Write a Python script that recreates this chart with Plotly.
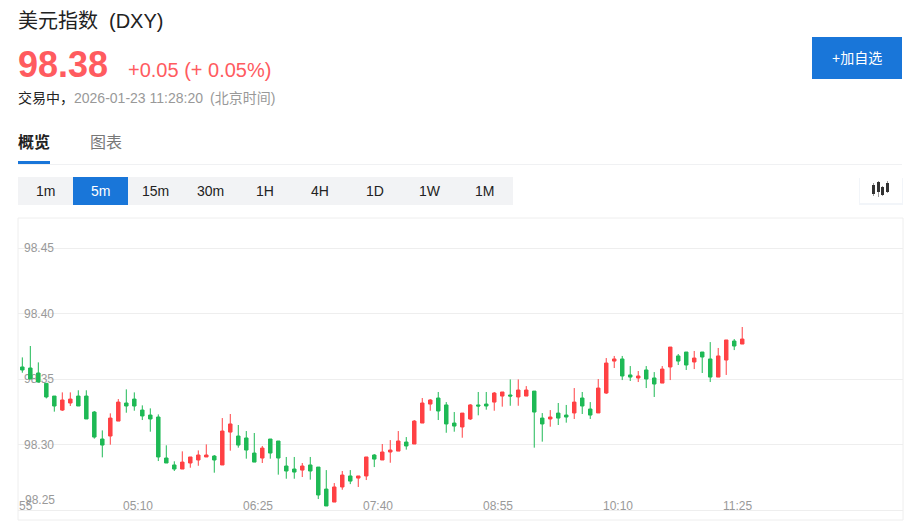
import plotly.graph_objects as go

# page body keeps its 8px margin, so the figure starts at (8, 8) of the window
W, H = 904, 516
OFFSET = 8

times = [
    "03:55", "04:00", "04:05", "04:10", "04:15", "04:20", "04:25", "04:30", "04:35", "04:40",
    "04:45", "04:50", "04:55", "05:00", "05:05", "05:10", "05:15", "05:20", "05:25", "05:30",
    "05:35", "05:40", "05:45", "05:50", "05:55", "06:00", "06:05", "06:10", "06:15", "06:20",
    "06:25", "06:30", "06:35", "06:40", "06:45", "06:50", "06:55", "07:00", "07:05", "07:10",
    "07:15", "07:20", "07:25", "07:30", "07:35", "07:40", "07:45", "07:50", "07:55", "08:00",
    "08:05", "08:10", "08:15", "08:20", "08:25", "08:30", "08:35", "08:40", "08:45", "08:50",
    "08:55", "09:00", "09:05", "09:10", "09:15", "09:20", "09:25", "09:30", "09:35", "09:40",
    "09:45", "09:50", "09:55", "10:00", "10:05", "10:10", "10:15", "10:20", "10:25", "10:30",
    "10:35", "10:40", "10:45", "10:50", "10:55", "11:00", "11:05", "11:10", "11:15", "11:20",
    "11:25",
]
opens = [
    98.3592, 98.3584, 98.3546, 98.3467, 98.3370, 98.3263, 98.3317, 98.3370, 98.3370, 98.3248,
    98.3042, 98.3065, 98.3179, 98.3317, 98.3347, 98.3263, 98.3225, 98.3210, 98.2897, 98.2844,
    98.2813, 98.2859, 98.2882, 98.2905, 98.2912, 98.2844, 98.3095, 98.3065, 98.3050, 98.2935,
    98.2897, 98.3042, 98.3027, 98.2836, 98.2813, 98.2805, 98.2844, 98.2828, 98.2660, 98.2561,
    98.2676, 98.2760, 98.2744, 98.2760, 98.2920, 98.2882, 98.2943, 98.2950, 98.3019, 98.3004,
    98.3164, 98.3309, 98.3355, 98.3302, 98.3164, 98.3134, 98.3195, 98.3302, 98.3309, 98.3324,
    98.3370, 98.3378, 98.3363, 98.3370, 98.3408, 98.3202, 98.3195, 98.3240, 98.3225, 98.3241,
    98.3355, 98.3271, 98.3241, 98.3393, 98.3637, 98.3653, 98.3531, 98.3508, 98.3569, 98.3508,
    98.3469, 98.3592, 98.3676, 98.3706, 98.3630, 98.3706, 98.3653, 98.3515, 98.3645, 98.3790,
    98.3767,
]
highs = [
    98.3665, 98.3752, 98.3627, 98.3467, 98.3370, 98.3398, 98.3398, 98.3414, 98.3414, 98.3256,
    98.3108, 98.3238, 98.3347, 98.3421, 98.3398, 98.3299, 98.3276, 98.3230, 98.2994, 98.2872,
    98.2948, 98.2905, 98.2955, 98.3001, 98.2920, 98.3202, 98.3233, 98.3149, 98.3103, 98.3088,
    98.2989, 98.3042, 98.3027, 98.2905, 98.2905, 98.2859, 98.2905, 98.2828, 98.2805, 98.2706,
    98.2798, 98.2805, 98.2760, 98.2905, 98.2927, 98.3004, 98.3034, 98.3103, 98.3057, 98.3187,
    98.3355, 98.3347, 98.3401, 98.3324, 98.3248, 98.3240, 98.3309, 98.3401, 98.3401, 98.3401,
    98.3401, 98.3497, 98.3497, 98.3446, 98.3408, 98.3240, 98.3263, 98.3317, 98.3302, 98.3431,
    98.3401, 98.3324, 98.3500, 98.3660, 98.3676, 98.3676, 98.3599, 98.3561, 98.3599, 98.3553,
    98.3599, 98.3744, 98.3691, 98.3706, 98.3714, 98.3706, 98.3782, 98.3737, 98.3798, 98.3805,
    98.3897,
]
lows = [
    98.3548, 98.3500, 98.3475, 98.3352, 98.3251, 98.3256, 98.3294, 98.3294, 98.3195, 98.3045,
    98.2902, 98.2999, 98.3179, 98.3243, 98.3258, 98.3187, 98.3098, 98.2874, 98.2859, 98.2798,
    98.2813, 98.2823, 98.2838, 98.2905, 98.2785, 98.2844, 98.2953, 98.2976, 98.2892, 98.2866,
    98.2859, 98.2892, 98.2770, 98.2739, 98.2739, 98.2752, 98.2732, 98.2584, 98.2531, 98.2561,
    98.2655, 98.2698, 98.2676, 98.2729, 98.2828, 98.2882, 98.2861, 98.2950, 98.2961, 98.3004,
    98.3164, 98.3258, 98.3187, 98.3090, 98.3098, 98.3052, 98.3187, 98.3223, 98.3266, 98.3258,
    98.3289, 98.3296, 98.3296, 98.3370, 98.2976, 98.3022, 98.3136, 98.3149, 98.3167, 98.3195,
    98.3233, 98.3195, 98.3241, 98.3386, 98.3584, 98.3492, 98.3485, 98.3477, 98.3431, 98.3363,
    98.3469, 98.3492, 98.3607, 98.3569, 98.3576, 98.3546, 98.3477, 98.3515, 98.3531, 98.3721,
    98.3767,
]
closes = [
    98.3569, 98.3500, 98.3477, 98.3363, 98.3294, 98.3340, 98.3347, 98.3294, 98.3195, 98.3057,
    98.2996, 98.3202, 98.3324, 98.3294, 98.3294, 98.3218, 98.3195, 98.2905, 98.2859, 98.2813,
    98.2866, 98.2905, 98.2920, 98.2920, 98.2882, 98.3103, 98.3157, 98.2996, 98.2958, 98.2866,
    98.2973, 98.2935, 98.2897, 98.2798, 98.2790, 98.2836, 98.2798, 98.2615, 98.2531, 98.2676,
    98.2767, 98.2721, 98.2760, 98.2905, 98.2889, 98.2943, 98.2958, 98.3027, 98.2989, 98.3179,
    98.3317, 98.3340, 98.3256, 98.3157, 98.3141, 98.3240, 98.3302, 98.3294, 98.3294, 98.3393,
    98.3401, 98.3370, 98.3416, 98.3416, 98.3248, 98.3157, 98.3210, 98.3202, 98.3210, 98.3324,
    98.3294, 98.3225, 98.3431, 98.3622, 98.3653, 98.3523, 98.3515, 98.3523, 98.3500, 98.3462,
    98.3576, 98.3744, 98.3637, 98.3607, 98.3660, 98.3668, 98.3515, 98.3676, 98.3798, 98.3752,
    98.3805,
]

y_ticks = [98.30, 98.35, 98.40, 98.45]
x_ticks = ["05:10", "06:25", "07:40", "08:55", "10:10", "11:25"]
tabs = ["1m", "5m", "15m", "30m", "1H", "4H", "1D", "1W", "1M"]

RED = "#ff4144"
GREEN = "#1eb955"
BLUE = "#1976d9"
GRAY = "#999999"
FONT = "Liberation Sans, Noto Sans CJK SC, sans-serif"


def px(x):
    return (x - OFFSET) / W


def py(y):
    return 1 - (y - OFFSET) / H


def rect(x0, y0, x1, y1, fill, line=None):
    return dict(type="rect", xref="paper", yref="paper", x0=px(x0), x1=px(x1), y0=py(y0), y1=py(y1),
                fillcolor=fill, line=dict(width=1 if line else 0, color=line or fill), layer="below")


def label(x, y, text, size, color, anchor="left", bold=False):
    if bold:
        text = "<b>" + text + "</b>"
    return dict(xref="paper", yref="paper", x=px(x), y=py(y), text=text, showarrow=False,
                xanchor=anchor, yanchor="middle", borderpad=0,
                font=dict(size=size, color=color, family=FONT))


fig = go.Figure()
fig.add_trace(go.Candlestick(
    x=times, open=opens, high=highs, low=lows, close=closes,
    increasing=dict(line=dict(color=RED, width=1), fillcolor=RED),
    decreasing=dict(line=dict(color=GREEN, width=1), fillcolor=GREEN),
    whiskerwidth=0,
))

shapes = [
    rect(18, 218, 903, 520, "#ffffff", "#eeeeee"),
    rect(18, 164, 902, 165, "#f0f1f3"),
    rect(18, 161, 50, 164, BLUE),
    rect(812, 37, 902, 79, BLUE),
    rect(18, 177, 513, 205, "#f2f3f5"),
    rect(73, 177, 128, 205, BLUE),
    # soft shadow under the chart type button
    rect(859, 178, 903, 205, "#f2f5f9"),
    rect(860, 177, 902, 203, "#ffffff"),
    # candle icon
    rect(873, 183, 874, 196, "#999999"),
    rect(878, 181, 879, 197, "#999999"),
    rect(882, 186, 883, 196, "#999999"),
    rect(887, 181, 888, 193, "#999999"),
    rect(872, 185, 875, 194, "#333333"),
    rect(877, 182, 880, 192, "#333333"),
    rect(881, 187, 884, 195, "#333333"),
    rect(886, 183, 889, 192, "#333333"),
]

annotations = [
    label(17, 21, "美元指数", 20, "#222222"),
    label(108, 21, "(DXY)", 20, "#222222"),
    label(17, 65, "98.38", 36, "#ff5b5f", bold=True),
    label(127, 70, "+0.05 (+ 0.05%)", 20, "#ff5b5f"),
    label(17, 98, "交易中，", 14, "#222222"),
    label(73, 98, "2026-01-23 11:28:20", 14, GRAY),
    label(209, 98, "(北京时间)", 14, GRAY),
    label(17, 142, "概览", 16, "#222222", bold=True),
    label(89, 142, "图表", 16, "#777777"),
    label(857, 58, "+加自选", 14, "#ffffff", anchor="center"),
]
for i, tab in enumerate(tabs):
    annotations.append(label(45 + 55 * i, 191, tab, 14, "#ffffff" if tab == "5m" else "#222222", anchor="center"))

# x labels sit a little left of their candle, the first one is cut by the plot edge
for t in x_ticks:
    annotations.append(dict(x=t, y=0, xref="x", yref="paper", yanchor="middle", showarrow=False, xshift=-4.6,
                            text=t, yshift=py(506) * H, font=dict(size=12, color=GRAY, family=FONT)))
annotations.append(label(26, 506, "55", 12, GRAY, anchor="center"))
annotations.append(label(24, 500, "98.25", 12, GRAY))

fig.update_layout(
    width=W, height=H,
    margin=dict(l=0, r=0, t=0, b=0),
    paper_bgcolor="#ffffff",
    plot_bgcolor="rgba(0,0,0,0)",
    showlegend=False,
    boxgap=0.38,
    shapes=shapes,
    annotations=annotations,
    xaxis=dict(
        domain=[px(18), px(903)], type="category", range=[-0.54, 110.1],
        rangeslider=dict(visible=False), showgrid=False, zeroline=False,
        showticklabels=False, ticks="",
    ),
    yaxis=dict(
        domain=[py(520), py(218)], range=[98.2424, 98.4729],
        tickvals=[98.25] + y_ticks, ticktext=[""] + ["%.2f" % v for v in y_ticks],
        ticklabelposition="inside", ticks="", ticklabelstandoff=3, layer="below traces",
        tickfont=dict(size=12, color=GRAY, family=FONT),
        gridcolor="#eeeeee", gridwidth=1, zeroline=False, showline=False,
    ),
)

fig.write_html("out.html")
